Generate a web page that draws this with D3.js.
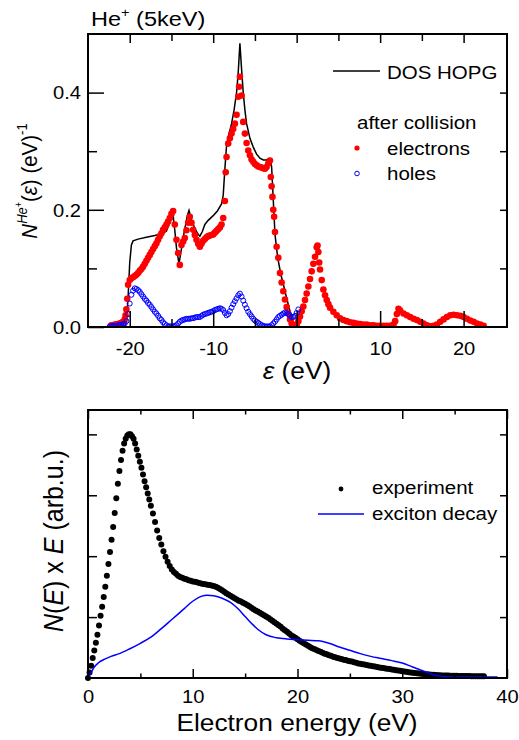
<!DOCTYPE html>
<html><head><meta charset="utf-8">
<script src="https://cdn.jsdelivr.net/npm/d3@7"></script>
<style>html,body{margin:0;padding:0;background:#fff;}svg{display:block;}</style>
</head><body>
<svg id="chart" width="519" height="740"></svg>
<script>
// ---------------- DATA ----------------
const dosHOPG = [[-20.6,0.0],[-20.4,0.01],[-20.2,0.05],[-20.0,0.11],[-19.8,0.14],[-19.6,0.147],[-19.0,0.150],[-18.0,0.153],[-17.0,0.156],[-16.0,0.160],[-15.6,0.164],[-15.3,0.175],[-15.0,0.188],[-14.8,0.190],[-14.6,0.165],[-14.4,0.135],[-14.1,0.108],[-13.9,0.125],[-13.5,0.160],[-13.1,0.190],[-12.9,0.199],[-12.6,0.183],[-12.2,0.168],[-11.8,0.158],[-11.6,0.155],[-11.3,0.163],[-11.0,0.175],[-10.6,0.182],[-10.0,0.190],[-9.5,0.198],[-9.0,0.210],[-8.8,0.225],[-8.6,0.27],[-8.4,0.31],[-8.1,0.33],[-7.8,0.347],[-7.5,0.37],[-7.2,0.40],[-7.0,0.435],[-6.8,0.484],[-6.6,0.44],[-6.4,0.40],[-6.2,0.37],[-6.0,0.347],[-5.6,0.322],[-5.2,0.307],[-4.8,0.295],[-4.4,0.288],[-4.0,0.285],[-3.6,0.285],[-3.3,0.287],[-3.1,0.282],[-3.0,0.273],[-2.8,0.216],[-2.6,0.159],[-2.4,0.133],[-2.2,0.113],[-1.9,0.09],[-1.6,0.073],[-1.3,0.055],[-1.0,0.038],[-0.7,0.022],[-0.4,0.008],[-0.2,0.002],[0.0,0.0]];

const electrons = [[-22.2,0.003],[-22.0,0.003],[-21.8,0.004],[-21.6,0.004],[-21.4,0.005],[-21.2,0.006],[-21.0,0.007],[-20.8,0.009],[-20.6,0.013],[-20.5,0.020],[-20.4,0.030],[-20.3,0.048],[-20.2,0.072],[-20.0,0.080],[-19.8,0.083],[-19.6,0.085],[-19.4,0.087],[-19.2,0.089],[-19.0,0.092],[-18.8,0.096],[-18.6,0.099],[-18.4,0.103],[-18.2,0.108],[-18.0,0.113],[-17.8,0.118],[-17.6,0.123],[-17.4,0.128],[-17.2,0.133],[-17.0,0.138],[-16.8,0.143],[-16.6,0.149],[-16.4,0.155],[-16.2,0.160],[-16.0,0.166],[-15.8,0.170],[-15.6,0.175],[-15.4,0.180],[-15.2,0.186],[-15.0,0.193],[-14.8,0.198],[-14.6,0.175],[-14.4,0.149],[-14.2,0.126],[-14.0,0.106],[-13.8,0.140],[-13.6,0.146],[-13.4,0.152],[-13.2,0.165],[-13.0,0.178],[-12.8,0.188],[-12.6,0.178],[-12.4,0.166],[-12.2,0.157],[-12.0,0.149],[-11.8,0.142],[-11.6,0.137],[-11.4,0.142],[-11.2,0.147],[-11.0,0.150],[-10.8,0.153],[-10.6,0.155],[-10.4,0.156],[-10.2,0.157],[-10.0,0.158],[-9.8,0.161],[-9.6,0.164],[-9.4,0.167],[-9.2,0.170],[-9.0,0.175],[-8.8,0.186],[-8.6,0.215],[-8.5,0.264],[-8.4,0.290],[-8.2,0.313],[-8.0,0.322],[-7.8,0.330],[-7.6,0.338],[-7.4,0.347],[-7.2,0.362],[-7.0,0.393],[-6.9,0.410],[-6.8,0.427],[-6.6,0.395],[-6.4,0.350],[-6.2,0.330],[-6.0,0.314],[-5.8,0.301],[-5.6,0.293],[-5.4,0.286],[-5.2,0.282],[-5.0,0.278],[-4.8,0.276],[-4.6,0.274],[-4.4,0.273],[-4.2,0.272],[-4.0,0.271],[-3.8,0.270],[-3.6,0.273],[-3.4,0.279],[-3.2,0.284],[-3.1,0.256],[-3.0,0.240],[-2.9,0.222],[-2.8,0.200],[-2.7,0.188],[-2.6,0.162],[-2.4,0.137],[-2.2,0.118],[-2.0,0.092],[-1.8,0.076],[-1.6,0.061],[-1.4,0.047],[-1.2,0.034],[-1.0,0.023],[-0.8,0.013],[-0.6,0.006],[-0.4,0.003],[-0.2,0.002],[0.0,0.003],[0.2,0.010],[0.4,0.018],[0.6,0.027],[0.8,0.035],[1.0,0.046],[1.2,0.057],[1.4,0.069],[1.6,0.082],[1.8,0.095],[2.0,0.108],[2.2,0.120],[2.4,0.136],[2.5,0.139],[2.6,0.128],[2.7,0.110],[2.8,0.098],[3.0,0.080],[3.2,0.064],[3.4,0.054],[3.6,0.046],[3.8,0.039],[4.0,0.033],[4.4,0.026],[4.8,0.020],[5.2,0.015],[5.6,0.012],[6.0,0.010],[6.4,0.008],[6.8,0.007],[7.2,0.006],[7.6,0.005],[8.0,0.004],[8.4,0.004],[8.8,0.003],[9.2,0.003],[9.6,0.002],[10.0,0.002],[10.4,0.002],[10.8,0.002],[11.2,0.002],[11.6,0.004],[11.8,0.010],[12.0,0.022],[12.2,0.031],[12.4,0.028],[12.8,0.023],[13.2,0.020],[13.6,0.017],[14.0,0.014],[14.4,0.012],[14.8,0.009],[15.2,0.006],[15.6,0.003],[16.0,0.001],[16.4,0.002],[16.8,0.004],[17.2,0.009],[17.6,0.013],[18.0,0.017],[18.4,0.020],[18.8,0.021],[19.2,0.020],[19.6,0.019],[20.0,0.017],[20.4,0.014],[20.8,0.011],[21.2,0.009],[21.6,0.006],[22.0,0.004],[22.4,0.002]];

const holes = [[-22.4,0.001],[-22.2,0.001],[-22.0,0.002],[-21.8,0.002],[-21.6,0.002],[-21.4,0.003],[-21.2,0.003],[-21.0,0.004],[-20.8,0.005],[-20.6,0.006],[-20.4,0.010],[-20.2,0.022],[-20.0,0.040],[-19.8,0.055],[-19.6,0.062],[-19.4,0.066],[-19.2,0.065],[-19.0,0.063],[-18.8,0.060],[-18.6,0.056],[-18.4,0.052],[-18.2,0.048],[-18.0,0.045],[-17.8,0.041],[-17.6,0.038],[-17.4,0.034],[-17.2,0.030],[-17.0,0.026],[-16.8,0.023],[-16.6,0.019],[-16.4,0.015],[-16.2,0.012],[-16.0,0.008],[-15.8,0.005],[-15.6,0.003],[-15.4,0.001],[-15.2,0.001],[-15.0,0.001],[-14.8,0.001],[-14.6,0.002],[-14.4,0.003],[-14.2,0.006],[-14.0,0.009],[-13.8,0.011],[-13.6,0.012],[-13.4,0.013],[-13.2,0.014],[-13.0,0.014],[-12.8,0.014],[-12.6,0.015],[-12.4,0.015],[-12.2,0.016],[-12.0,0.017],[-11.8,0.017],[-11.6,0.017],[-11.4,0.019],[-11.2,0.021],[-11.0,0.022],[-10.8,0.023],[-10.6,0.024],[-10.4,0.025],[-10.2,0.026],[-10.0,0.027],[-9.8,0.029],[-9.6,0.030],[-9.4,0.031],[-9.2,0.032],[-9.0,0.031],[-8.8,0.029],[-8.6,0.024],[-8.4,0.020],[-8.2,0.022],[-8.0,0.027],[-7.8,0.033],[-7.6,0.039],[-7.4,0.044],[-7.2,0.049],[-7.0,0.054],[-6.8,0.057],[-6.6,0.052],[-6.4,0.045],[-6.2,0.038],[-6.0,0.032],[-5.8,0.026],[-5.6,0.022],[-5.4,0.018],[-5.2,0.014],[-5.0,0.011],[-4.8,0.009],[-4.6,0.007],[-4.4,0.005],[-4.2,0.003],[-4.0,0.002],[-3.8,0.001],[-3.6,0.001],[-3.4,0.001],[-3.2,0.001],[-3.0,0.003],[-2.8,0.006],[-2.6,0.009],[-2.4,0.013],[-2.2,0.017],[-2.0,0.019],[-1.8,0.021],[-1.6,0.023],[-1.4,0.025],[-1.2,0.024],[-1.0,0.022],[-0.8,0.019],[-0.6,0.017],[-0.4,0.017],[-0.2,0.019],[0.0,0.024],[0.2,0.030]];

const experiment = [[0.0,0.0],[0.15,0.09],[0.3,0.2],[0.45,0.33],[0.6,0.45],[0.75,0.58],[0.9,0.71],[1.05,0.86],[1.2,1.02],[1.35,1.17],[1.5,1.33],[1.65,1.50],[1.8,1.68],[1.95,1.87],[2.1,2.07],[2.25,2.27],[2.4,2.48],[2.55,2.71],[2.7,2.95],[2.85,3.19],[3.0,3.40],[3.15,3.58],[3.3,3.73],[3.45,3.85],[3.6,3.93],[3.75,3.98],[3.9,4.0],[4.05,4.0],[4.2,3.97],[4.35,3.93],[4.5,3.85],[4.65,3.75],[4.8,3.65],[4.95,3.55],[5.1,3.45],[5.25,3.34],[5.4,3.23],[5.55,3.13],[5.7,3.03],[5.85,2.93],[6.0,2.83],[6.2,2.70],[6.4,2.56],[6.6,2.42],[6.8,2.30],[7.0,2.19],[7.2,2.08],[7.4,1.99],[7.6,1.91],[7.8,1.84],[8.0,1.78],[8.2,1.74],[8.4,1.71],[8.6,1.68],[8.8,1.66],[9.0,1.645],[9.2,1.63],[9.4,1.62],[9.6,1.605],[9.8,1.595],[10.0,1.585],[10.2,1.58],[10.4,1.57],[10.6,1.56],[10.8,1.55],[11.0,1.545],[11.2,1.54],[11.4,1.53],[11.6,1.525],[11.8,1.52],[12.0,1.51],[12.2,1.50],[12.4,1.48],[12.6,1.46],[12.8,1.44],[13.0,1.415],[13.2,1.39],[13.4,1.37],[13.6,1.35],[13.8,1.33],[14.0,1.31],[14.2,1.29],[14.4,1.27],[14.6,1.255],[14.8,1.235],[15.0,1.22],[15.2,1.20],[15.4,1.18],[15.6,1.155],[15.8,1.13],[16.0,1.11],[16.2,1.09],[16.4,1.07],[16.6,1.05],[16.8,1.03],[17.0,1.01],[17.2,0.99],[17.4,0.965],[17.6,0.94],[17.8,0.915],[18.0,0.89],[18.2,0.865],[18.4,0.84],[18.6,0.81],[18.8,0.785],[19.0,0.76],[19.2,0.73],[19.4,0.70],[19.6,0.68],[19.8,0.66],[20.0,0.635],[20.2,0.61],[20.4,0.59],[20.6,0.57],[20.8,0.55],[21.0,0.53],[21.2,0.51],[21.4,0.49],[21.6,0.475],[21.8,0.46],[22.0,0.445],[22.2,0.43],[22.4,0.415],[22.6,0.40],[22.8,0.39],[23.0,0.375],[23.2,0.365],[23.4,0.35],[23.6,0.34],[23.8,0.33],[24.0,0.32],[24.2,0.31],[24.4,0.30],[24.6,0.295],[24.8,0.285],[25.0,0.277],[25.2,0.27],[25.4,0.26],[25.6,0.25],[25.8,0.24],[26.0,0.233],[26.2,0.227],[26.4,0.22],[26.6,0.213],[26.8,0.207],[27.0,0.20],[27.2,0.193],[27.4,0.187],[27.6,0.18],[27.8,0.173],[28.0,0.168],[28.2,0.163],[28.4,0.158],[28.6,0.152],[28.8,0.146],[29.0,0.14],[29.2,0.134],[29.4,0.128],[29.6,0.122],[29.8,0.117],[30.0,0.112],[30.2,0.107],[30.4,0.101],[30.6,0.096],[30.8,0.091],[31.0,0.086],[31.2,0.082],[31.4,0.078],[31.6,0.074],[31.8,0.07],[32.0,0.067],[32.2,0.063],[32.4,0.06],[32.6,0.057],[32.8,0.055],[33.0,0.052],[33.2,0.049],[33.4,0.047],[33.6,0.045],[33.8,0.043],[34.0,0.041],[34.2,0.04],[34.4,0.039],[34.6,0.037],[34.8,0.036],[35.0,0.035],[35.2,0.035],[35.4,0.034],[35.6,0.033],[35.8,0.033],[36.0,0.032],[36.2,0.031],[36.4,0.031],[36.6,0.030],[36.8,0.029],[37.0,0.029],[37.2,0.029],[37.4,0.028],[37.6,0.028],[37.8,0.028]];

const excitonDecay = [[0,0],[0.3,0.09],[0.6,0.18],[1.0,0.25],[1.6,0.31],[2.2,0.355],[3.0,0.40],[4.0,0.48],[5.0,0.57],[6.0,0.67],[7.0,0.81],[8.0,0.96],[9.0,1.11],[10.0,1.26],[10.8,1.34],[11.4,1.36],[12.0,1.35],[12.8,1.31],[13.6,1.24],[14.3,1.14],[15.0,1.01],[15.6,0.90],[16.2,0.80],[17.0,0.71],[18.0,0.66],[19.0,0.64],[20.0,0.63],[21.0,0.62],[22.0,0.61],[23.0,0.57],[24.0,0.51],[25.0,0.455],[26.0,0.40],[27.0,0.355],[28.0,0.32],[29.0,0.285],[30.0,0.245],[31.0,0.18],[32.0,0.115],[33.0,0.05],[34.0,0.025],[35.0,0.017],[36.0,0.016],[39.1,0.016]];

const topMajorX = [-20,-10,0,10,20];
const topMinorX = [-15,-5,5,15];
const topMajorY = [0.0,0.2,0.4];
const topMinorY = [0.1,0.3];
const botMajorX = [0,10,20,30,40];
const botMinorX = [5,15,25,35];
const botTicksY = [1,2,3,4];

// ---------------- DRAWING ----------------
const SX = 1.12;
const FONT = "'Liberation Sans', Arial, Helvetica, sans-serif";
const svg = d3.select("#chart");
svg.append("rect").attr("width",519).attr("height",740).attr("fill","#fff");

function addText(x, y, size, anchor, rot) {
  return svg.append("text")
    .attr("transform", `translate(${x},${y}) scale(${SX},1)` + (rot ? ` rotate(${rot})` : ""))
    .attr("font-size", size).attr("text-anchor", anchor)
    .attr("font-family", FONT).attr("fill", "#000");
}

function styleAxis(g) {
  g.select(".domain").remove();
  g.selectAll(".tick line").attr("stroke","#000").attr("stroke-width",1.5);
  g.selectAll(".tick text").attr("font-family",FONT).attr("fill","#000");
}

// ===== top panel =====
const L=88, R=507, T1=34, B1=327, T2=410, B2=678;
const x1 = d3.scaleLinear().domain([-25,25.2]).range([L,R]);
const y1 = d3.scaleLinear().domain([0,0.5]).range([B1,T1]);

svg.append("clipPath").attr("id","clip1").append("rect").attr("x",L).attr("y",T1).attr("width",R-L).attr("height",B1-T1);

const p1 = svg.append("g").attr("clip-path","url(#clip1)");
p1.append("path").datum(dosHOPG)
  .attr("d", d3.line().x(d=>x1(d[0])).y(d=>y1(d[1])))
  .attr("fill","none").attr("stroke","#000").attr("stroke-width",1.5);
p1.append("g").selectAll("circle").data(electrons).join("circle")
  .attr("cx",d=>x1(d[0])).attr("cy",d=>y1(d[1])).attr("r",3.3).attr("fill","#ff0000");
p1.append("g").selectAll("circle").data(holes).join("circle")
  .attr("cx",d=>x1(d[0])).attr("cy",d=>y1(d[1])).attr("r",2.5)
  .attr("fill","none").attr("stroke","#0000ff").attr("stroke-width",1);

// axes top panel
svg.append("g").attr("transform",`translate(0,${B1})`)
  .call(d3.axisBottom(x1).tickValues(topMajorX).tickSize(-16).tickPadding(15).tickFormat(d=>String(d)))
  .call(styleAxis).call(g=>g.selectAll(".tick text").attr("font-size",18).attr("dy","0.71em").attr("transform",`scale(${SX},1)`));
svg.append("g").attr("transform",`translate(0,${B1})`)
  .call(d3.axisBottom(x1).tickValues(topMinorX).tickSize(-8).tickFormat("")).call(styleAxis);
svg.append("g").attr("transform",`translate(0,${T1})`)
  .call(d3.axisTop(x1).tickValues(topMajorX).tickSize(-9).tickFormat("")).call(styleAxis);
svg.append("g").attr("transform",`translate(0,${T1})`)
  .call(d3.axisTop(x1).tickValues(topMinorX).tickSize(-7).tickFormat("")).call(styleAxis);
svg.append("g").attr("transform",`translate(${L},0)`)
  .call(d3.axisLeft(y1).tickValues(topMajorY).tickSize(-16).tickPadding(0).tickFormat(d3.format(".1f")))
  .call(styleAxis).call(g=>g.selectAll(".tick text").attr("font-size",18).attr("x",0).attr("dy","0.35em").attr("transform",`translate(-7,0) scale(${SX},1)`));
svg.append("g").attr("transform",`translate(${L},0)`)
  .call(d3.axisLeft(y1).tickValues(topMinorY).tickSize(-9).tickFormat("")).call(styleAxis);
svg.append("g").attr("transform",`translate(${R},0)`)
  .call(d3.axisRight(y1).tickValues([0.1,0.2,0.3,0.4]).tickSize(-7).tickFormat("")).call(styleAxis);

svg.append("rect").attr("x",L).attr("y",T1).attr("width",R-L).attr("height",B1-T1)
  .attr("fill","none").attr("stroke","#000").attr("stroke-width",2);

// title
const ttl = addText(91, 26, 21, "start");
ttl.append("tspan").text("He");
ttl.append("tspan").attr("font-size",13).attr("dy",-9).text("+");
ttl.append("tspan").attr("dy",9).text(" (5keV)");

// x title top
const xt1 = addText(297, 379, 23.5, "middle");
xt1.append("tspan").attr("font-style","italic").text("ε");
xt1.append("tspan").text(" (eV)");

// y title top
const yt1 = addText(37, 181, 20.5, "middle", -90);
yt1.append("tspan").attr("font-style","italic").text("N");
yt1.append("tspan").attr("font-size",13).attr("font-style","italic").attr("dy",-9).text("He");
yt1.append("tspan").attr("font-size",9).attr("dy",-4).text("+");
yt1.append("tspan").attr("dy",13).text("(");
yt1.append("tspan").attr("font-style","italic").text("ε");
yt1.append("tspan").text(") (eV)");
yt1.append("tspan").attr("font-size",13).attr("dy",-9).text("-1");

// legend top
svg.append("line").attr("x1",333).attr("x2",380).attr("y1",71).attr("y2",71).attr("stroke","#000").attr("stroke-width",1.5);
addText(387, 79, 18.3, "start").text("DOS HOPG");
addText(357, 129, 18.3, "start").text("after collision");
svg.append("circle").attr("cx",357).attr("cy",148).attr("r",2.6).attr("fill","#ff0000");
addText(387, 155, 18.3, "start").text("electrons");
svg.append("circle").attr("cx",357).attr("cy",173.5).attr("r",2.3).attr("fill","none").attr("stroke","#0000ff").attr("stroke-width",1);
addText(387, 180, 18.3, "start").text("holes");

// ===== bottom panel =====
const x2 = d3.scaleLinear().domain([0,40]).range([L,R]);
const y2 = d3.scaleLinear().domain([0,4.4]).range([B2,T2]);
svg.append("clipPath").attr("id","clip2").append("rect").attr("x",L-3).attr("y",T2).attr("width",R-L+3).attr("height",B2-T2+3);
const p2 = svg.append("g").attr("clip-path","url(#clip2)");
p2.append("g").selectAll("circle").data(experiment).join("circle")
  .attr("cx",d=>x2(d[0])).attr("cy",d=>y2(d[1])).attr("r",3).attr("fill","#000");
p2.append("path").datum(excitonDecay)
  .attr("d", d3.line().curve(d3.curveMonotoneX).x(d=>x2(d[0])).y(d=>y2(d[1])))
  .attr("fill","none").attr("stroke","#0000ff").attr("stroke-width",1.5);

svg.append("g").attr("transform",`translate(0,${B2})`)
  .call(d3.axisBottom(x2).tickValues(botMajorX).tickSize(-9).tickPadding(12).tickFormat(d=>String(d)))
  .call(styleAxis).call(g=>g.selectAll(".tick text").attr("font-size",18).attr("dy","0.71em").attr("transform",`scale(${SX},1)`));
svg.append("g").attr("transform",`translate(0,${B2})`)
  .call(d3.axisBottom(x2).tickValues(botMinorX).tickSize(-4.5).tickFormat("")).call(styleAxis);
svg.append("g").attr("transform",`translate(0,${T2})`)
  .call(d3.axisTop(x2).tickValues(botMajorX).tickSize(-9).tickFormat("")).call(styleAxis);
svg.append("g").attr("transform",`translate(0,${T2})`)
  .call(d3.axisTop(x2).tickValues(botMinorX).tickSize(-4.5).tickFormat("")).call(styleAxis);
svg.append("g").attr("transform",`translate(${L},0)`)
  .call(d3.axisLeft(y2).tickValues(botTicksY).tickSize(-9).tickFormat("")).call(styleAxis);
svg.append("g").attr("transform",`translate(${R},0)`)
  .call(d3.axisRight(y2).tickValues(botTicksY).tickSize(-7).tickFormat("")).call(styleAxis);

svg.append("rect").attr("x",L).attr("y",T2).attr("width",R-L).attr("height",B2-T2)
  .attr("fill","none").attr("stroke","#000").attr("stroke-width",2);

addText(297, 731, 23.5, "middle").text("Electron energy (eV)");

const yt2 = addText(63, 541, 25, "middle", -90);
yt2.append("tspan").attr("font-style","italic").text("N");
yt2.append("tspan").text("(");
yt2.append("tspan").attr("font-style","italic").text("E");
yt2.append("tspan").text(") x ");
yt2.append("tspan").attr("font-style","italic").text("E");
yt2.append("tspan").text(" (arb.u.)");

// legend bottom
svg.append("circle").attr("cx",341).attr("cy",489).attr("r",2.4).attr("fill","#000");
addText(372, 494, 18.3, "start").text("experiment");
svg.append("line").attr("x1",318).attr("x2",364).attr("y1",514).attr("y2",514).attr("stroke","#0000ff").attr("stroke-width",1.5);
addText(372, 519.5, 18.3, "start").text("exciton decay");
</script>
</body></html>
